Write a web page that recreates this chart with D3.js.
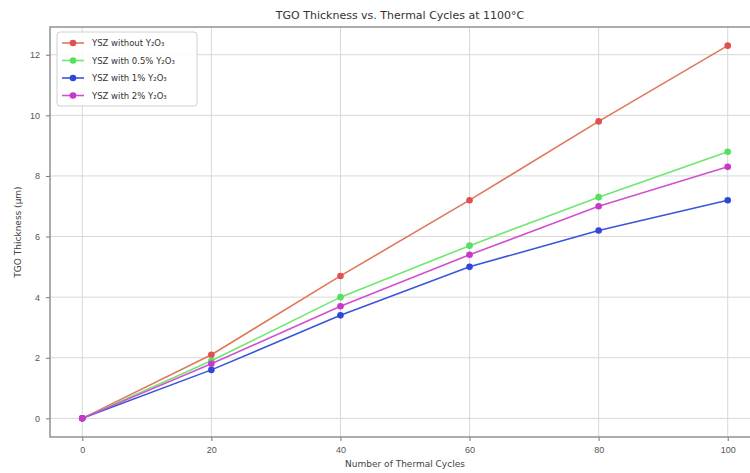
<!DOCTYPE html>
<html>
<head>
<meta charset="utf-8">
<script src="https://cdn.jsdelivr.net/npm/d3@7"></script>
<style>
  body { margin: 0; background: #fff; }
  svg { font-family: "DejaVu Sans", sans-serif; }
</style>
</head>
<body>
<div id="chart"></div>
<script>
// data
const cycles = [0, 20, 40, 60, 80, 100]
const seriesNames = ["YSZ without Y\u2082O\u2083", "YSZ with 0.5% Y\u2082O\u2083", "YSZ with 1% Y\u2082O\u2083", "YSZ with 2% Y\u2082O\u2083"]
const without = [0, 2.1, 4.7, 7.2, 9.8, 12.3]
const half = [0, 1.9, 4.0, 5.7, 7.3, 8.8]
const one = [0, 1.6, 3.4, 5.0, 6.2, 7.2]
const two = [0, 1.8, 3.7, 5.4, 7.0, 8.3]
const xTicks = [0, 20, 40, 60, 80, 100]
const yTicks = [0, 2, 4, 6, 8, 10, 12]

const lineColors = ["#e0785a", "#6ee86e", "#3b55d8", "#d050d0"]
const markColors = ["#e05050", "#55e060", "#3048d8", "#c838c8"]

const W = 750, H = 473
const MARGIN = { top: 27, left: 50 }
const plotW = 710, plotH = 410

const svg = d3.select("#chart").append("svg")
  .attr("width", W).attr("height", H)

const g = svg.append("g")
  .attr("transform", `translate(${MARGIN.left},${MARGIN.top})`)

const x = d3.scaleLinear().domain([-5, 105]).range([0, plotW])
const y = d3.scaleLinear().domain([-0.615, 12.915]).range([plotH, 0])

// grid
g.append("g").selectAll("line").data(xTicks).join("line")
  .attr("x1", d => x(d)).attr("x2", d => x(d))
  .attr("y1", 0).attr("y2", plotH)
  .attr("stroke", "#d8d8d8").attr("stroke-width", 1)
g.append("g").selectAll("line").data(yTicks).join("line")
  .attr("y1", d => y(d)).attr("y2", d => y(d))
  .attr("x1", 0).attr("x2", plotW)
  .attr("stroke", "#d8d8d8").attr("stroke-width", 1)

// axes
const xAxis = g.append("g")
  .attr("transform", `translate(0,${plotH})`)
  .call(d3.axisBottom(x).tickValues(xTicks).tickSize(4).tickPadding(6))
const yAxis = g.append("g")
  .call(d3.axisLeft(y).tickValues(yTicks).tickSize(4).tickPadding(6))
for (const ax of [xAxis, yAxis]) {
  ax.select(".domain").remove()
  ax.selectAll("line").attr("stroke", "#777")
  ax.selectAll("text").attr("fill", "#555").attr("font-size", "9px")
}

// frame
g.append("rect")
  .attr("width", plotW).attr("height", plotH)
  .attr("fill", "none").attr("stroke", "#8a8a8a").attr("stroke-width", 1.4)

const allSeries = [without, half, one, two]
const line = d3.line().x((d, i) => x(cycles[i])).y(d => y(d))

allSeries.forEach((vals, k) => {
  g.append("path")
    .datum(vals)
    .attr("fill", "none")
    .attr("stroke", lineColors[k])
    .attr("stroke-width", 1.6)
    .attr("d", line)
  g.append("g").selectAll("circle").data(vals).join("circle")
    .attr("cx", (d, i) => x(cycles[i]))
    .attr("cy", d => y(d))
    .attr("r", 3.3)
    .attr("fill", markColors[k])
})

// title and labels
svg.append("text")
  .attr("x", 400).attr("y", 19)
  .attr("text-anchor", "middle")
  .attr("font-size", "11px").attr("fill", "#333")
  .text("TGO Thickness vs. Thermal Cycles at 1100\u00b0C")

svg.append("text")
  .attr("x", 405).attr("y", 467)
  .attr("text-anchor", "middle")
  .attr("font-size", "9px").attr("fill", "#444")
  .text("Number of Thermal Cycles")

svg.append("text")
  .attr("transform", "translate(21,232) rotate(-90)")
  .attr("text-anchor", "middle")
  .attr("font-size", "9px").attr("fill", "#444")
  .text("TGO Thickness (\u03bcm)")

// legend
const leg = g.append("g").attr("transform", "translate(7,5)")
leg.append("rect")
  .attr("width", 140).attr("height", 74).attr("rx", 3)
  .attr("fill", "#fff").attr("fill-opacity", 0.85)
  .attr("stroke", "#d0d0d0")
seriesNames.forEach((name, k) => {
  const yy = 11 + k * 17.5
  leg.append("line")
    .attr("x1", 5).attr("x2", 27).attr("y1", yy).attr("y2", yy)
    .attr("stroke", lineColors[k]).attr("stroke-width", 1.6)
  leg.append("circle")
    .attr("cx", 16).attr("cy", yy).attr("r", 3.3)
    .attr("fill", markColors[k])
  leg.append("text")
    .attr("x", 35).attr("y", yy + 3.2)
    .attr("font-size", "8.5px").attr("fill", "#333")
    .text(name)
})
</script>
</body>
</html>
